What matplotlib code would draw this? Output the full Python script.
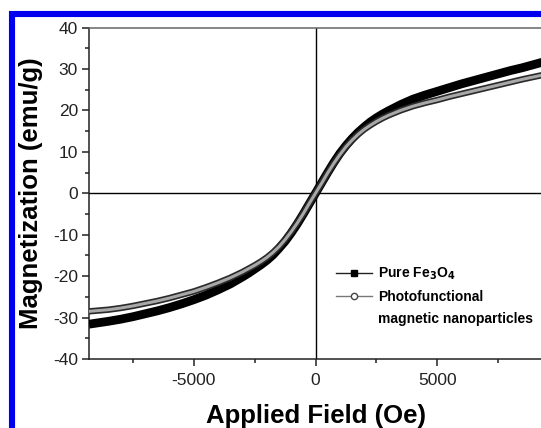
import numpy as np
import matplotlib
matplotlib.use("Agg")
import matplotlib.pyplot as plt
from matplotlib.lines import Line2D
from matplotlib.ticker import MultipleLocator

plt.rcParams['font.family'] = ['Liberation Sans', 'DejaVu Sans']
plt.rcParams['axes.unicode_minus'] = False

# applied field (Oe) and magnetization (emu/g)
field = [-9300, -8500, -8000, -7500, -7000, -6500, -6000, -5500, -5000, -4500, -4000, -3500,
         -3000, -2750, -2500, -2250, -2000, -1750, -1500, -1250, -1000, -750, -500, -250, 0,
         250, 500, 750, 1000, 1250, 1500, 1750, 2000, 2250, 2500, 2750, 3000,
         3500, 4000, 4500, 5000, 5500, 6000, 6500, 7000, 7500, 8000, 8500, 9300]
m_fe3o4 = [-31.6, -30.9, -30.4, -29.8, -29.1, -28.4, -27.6, -26.7, -25.7, -24.6, -23.3, -21.9,
           -20.2, -19.3, -18.3, -17.3, -16.2, -14.9, -13.3, -11.6, -9.6, -7.4, -5.0, -2.5, 0.0,
           2.5, 5.0, 7.4, 9.6, 11.5, 13.2, 14.7, 16.0, 17.2, 18.2, 19.1, 19.9,
           21.4, 22.7, 23.7, 24.6, 25.5, 26.4, 27.2, 28.0, 28.8, 29.6, 30.3, 31.6]
m_photo = [-28.5, -28.1, -27.7, -27.2, -26.6, -26.0, -25.3, -24.5, -23.7, -22.7, -21.6, -20.4,
           -19.0, -18.2, -17.4, -16.5, -15.5, -14.3, -12.9, -11.2, -9.3, -7.2, -4.9, -2.4, 0.0,
           2.4, 4.9, 7.2, 9.3, 11.2, 12.8, 14.2, 15.4, 16.4, 17.3, 18.1, 18.8,
           20.0, 21.0, 21.8, 22.5, 23.3, 24.0, 24.7, 25.4, 26.1, 26.8, 27.5, 28.5]

labels = ["Pure Fe$_\\mathbf{3}$O$_\\mathbf{4}$", "Photofunctional", "magnetic nanoparticles"]
xticks = [-5000, 0, 5000]
yticks = [-40, -30, -20, -10, 0, 10, 20, 30, 40]

W, H = 541, 428
fig = plt.figure(figsize=(W / 100, H / 100), dpi=100)
ax = fig.add_axes([89 / W, 1 - 359 / H, (542 - 89) / W, (359 - 27.5) / H])

ax.plot(field, m_fe3o4, color='black', lw=6.3, solid_capstyle='butt',
        solid_joinstyle='round', zorder=3)
ax.plot(field, m_photo, color='#2a2a2a', lw=4.6, solid_capstyle='butt',
        solid_joinstyle='round', zorder=4)
ax.plot(field, m_photo, color='#a8a8a8', lw=2.2, solid_capstyle='butt',
        solid_joinstyle='round', zorder=5)

ax.axhline(0, color='black', lw=1.0, zorder=2)
ax.axvline(0, color='black', lw=1.0, zorder=2)

ax.set_xlim(-9300, 9300)
ax.set_ylim(-40, 40)
ax.set_xticks(xticks)
ax.set_yticks(yticks)
ax.xaxis.set_minor_locator(MultipleLocator(2500))
ax.yaxis.set_minor_locator(MultipleLocator(5))
ax.tick_params(which='both', direction='out', top=False, right=False,
               colors='#222222', labelcolor='#222222', width=1.1)
ax.tick_params(which='major', length=5, labelsize=12.5)
ax.tick_params(axis='y', which='major', pad=3)
ax.tick_params(axis='x', which='major', pad=5)
ax.tick_params(which='minor', length=3)

for s in ['left', 'bottom']:
    ax.spines[s].set_color('#222222')
    ax.spines[s].set_linewidth(1.1)
ax.spines['top'].set_color('#666666')
ax.spines['top'].set_linewidth(1.1)
ax.spines['right'].set_visible(False)

ax.set_xlabel("Applied Field (Oe)", fontsize=18.5, fontweight='bold')
ax.set_ylabel("Magnetization (emu/g)", fontsize=18.5, fontweight='bold')
ax.xaxis.set_label_coords(0.5, -0.135)
ax.yaxis.set_label_coords(-0.1015, 0.5)

handles = [
    Line2D([], [], color='#222222', lw=1.0, marker='s', ms=5, mfc='black', mec='black'),
    Line2D([], [], color='#777777', lw=1.0, marker='o', ms=4.5, mfc='white', mec='#444444'),
    Line2D([], [], color='none'),
]
leg = ax.legend(handles, labels, loc='upper left', bbox_to_anchor=(336 / W, 1 - 266 / H),
                bbox_transform=fig.transFigure, frameon=False, borderpad=0,
                borderaxespad=0, handlelength=2.6, handletextpad=0.4, labelspacing=0.55,
                prop={'weight': 'bold', 'size': 10})

# blue frame of the original figure
fig.add_artist(Line2D([12 / W, 12 / W, 1.0], [0.0, 1 - 13.5 / H, 1 - 13.5 / H],
                      transform=fig.transFigure, color='#0000ee', lw=4.4,
                      solid_joinstyle='miter'))

fig.savefig('out.png', dpi=100)
